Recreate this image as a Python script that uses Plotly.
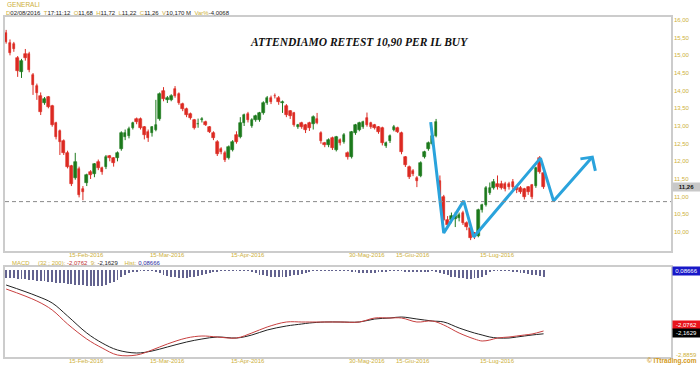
import plotly.graph_objects as go

# ---------------- data ----------------
day_index = list(range(141))
opens = [15.63, 15.35, 15.32, 14.92, 14.53, 15.04, 15.04, 14.44, 14.13, 13.85,
         13.65, 13.82, 13.57, 13.08, 12.86, 12.58, 12.24, 11.87, 11.53, 11.78,
         11.22, 11.39, 11.70, 11.64, 11.98, 11.81, 11.84, 12.15, 12.09, 12.09,
         12.35, 12.70, 12.72, 12.94, 13.20, 13.20, 12.97, 12.83, 12.80, 12.89,
         13.20, 13.99, 13.74, 13.74, 14.05, 13.90, 13.62, 13.48, 13.34, 13.17,
         13.05, 13.17, 13.12, 12.97, 12.80, 12.55, 12.35, 12.24, 12.09, 12.32,
         12.75, 12.69, 13.08, 13.34, 13.00, 13.17, 13.17, 13.37, 13.65, 13.79,
         13.85, 13.79, 13.65, 13.57, 13.42, 13.37, 12.97, 13.08, 13.03, 13.08,
         13.06, 13.20, 12.80, 12.52, 12.46, 12.66, 12.32, 12.60, 12.55, 12.24,
         12.12, 12.80, 12.89, 12.97, 13.23, 13.08, 13.03, 12.97, 12.94, 12.43,
         12.58, 12.89, 12.94, 12.80, 12.12, 11.84, 11.73, 11.53, 11.59, 12.12,
         12.35, 12.49, 12.72, 11.45, 11.00, 10.34, 10.34, 10.37, 10.40, 10.54,
         10.26, 10.11, 9.97, 9.89, 10.62, 10.76, 11.10, 11.25, 11.36, 11.36,
         11.36, 11.36, 11.42, 11.27, 11.24, 11.22, 11.27, 11.33, 11.30, 12.10,
         11.68]
highs = [15.72, 15.45, 15.38, 14.98, 14.90, 15.18, 15.10, 14.50, 14.20, 13.95,
         13.82, 13.85, 13.60, 13.12, 12.90, 12.62, 12.30, 11.90, 12.24, 11.85,
         11.30, 11.65, 11.75, 11.95, 12.05, 11.85, 12.18, 12.18, 12.12, 12.28,
         12.85, 12.90, 12.98, 13.12, 13.24, 13.24, 13.00, 12.90, 13.00, 13.74,
         13.95, 14.10, 13.85, 13.90, 14.13, 13.95, 13.66, 13.52, 13.38, 13.20,
         13.21, 13.25, 13.15, 13.00, 12.85, 12.60, 12.40, 12.30, 12.45, 12.60,
         12.85, 13.25, 13.35, 13.40, 13.22, 13.32, 13.40, 13.70, 13.85, 13.86,
         13.92, 13.85, 13.72, 13.62, 13.45, 13.40, 13.06, 13.12, 13.06, 13.12,
         13.30, 13.37, 12.85, 12.55, 12.65, 12.70, 12.72, 12.65, 12.80, 12.28,
         12.86, 13.06, 13.12, 13.15, 13.38, 13.12, 13.06, 13.00, 12.98, 12.56,
         12.76, 13.03, 12.98, 12.84, 12.15, 11.88, 11.78, 11.58, 12.00, 12.30,
         12.56, 12.75, 13.20, 11.60, 11.05, 10.45, 10.55, 10.57, 10.55, 10.60,
         10.30, 10.15, 10.00, 10.66, 10.80, 11.30, 11.40, 11.50, 11.60, 11.45,
         11.42, 11.42, 11.50, 11.30, 11.30, 11.25, 11.30, 11.36, 11.85, 12.15,
         11.72]
lows = [15.33, 15.00, 15.10, 14.39, 14.36, 14.85, 14.52, 13.88, 13.74, 13.31,
        13.60, 13.50, 12.98, 12.62, 12.18, 12.18, 11.80, 11.30, 11.48, 10.98,
        10.90, 11.30, 11.50, 11.55, 11.75, 11.62, 11.78, 12.00, 11.85, 12.00,
        12.30, 12.60, 12.65, 12.90, 13.05, 12.90, 12.62, 12.55, 12.70, 12.85,
        13.15, 13.70, 13.65, 13.70, 13.80, 13.60, 13.42, 13.25, 13.18, 12.90,
        12.95, 13.10, 13.00, 12.80, 12.60, 12.15, 12.20, 11.98, 12.05, 12.28,
        12.50, 12.65, 13.00, 13.10, 12.95, 13.12, 13.12, 13.32, 13.60, 13.62,
        13.78, 13.60, 13.37, 13.25, 13.20, 12.98, 12.92, 12.92, 12.80, 12.86,
        12.90, 13.05, 12.50, 12.40, 12.40, 12.32, 12.28, 12.45, 12.50, 12.05,
        12.08, 12.75, 12.85, 12.92, 12.98, 12.92, 12.90, 12.78, 12.45, 12.38,
        12.52, 12.85, 12.80, 12.20, 11.84, 11.50, 11.58, 11.27, 11.55, 12.08,
        12.30, 12.45, 12.68, 10.95, 10.30, 10.10, 10.25, 10.14, 10.30, 10.20,
        10.05, 9.77, 9.80, 9.85, 10.55, 10.72, 11.05, 11.20, 11.20, 11.20,
        11.15, 11.20, 11.20, 11.10, 11.08, 10.92, 11.05, 10.93, 11.25, 11.65,
        11.22]
closes = [15.38, 15.07, 15.18, 14.56, 14.84, 14.92, 14.58, 14.16, 13.93, 13.40,
          13.76, 13.54, 13.03, 12.69, 12.55, 12.24, 11.84, 11.36, 11.98, 11.05,
          11.13, 11.61, 11.61, 11.92, 11.81, 11.70, 12.12, 12.09, 11.95, 12.24,
          12.80, 12.80, 12.92, 13.08, 13.11, 12.94, 12.74, 12.66, 12.97, 13.03,
          13.90, 13.76, 13.80, 13.85, 13.85, 13.65, 13.48, 13.31, 13.23, 12.94,
          13.07, 13.20, 13.03, 12.83, 12.66, 12.21, 12.26, 12.04, 12.40, 12.55,
          12.55, 13.08, 13.31, 13.17, 13.17, 13.28, 13.37, 13.65, 13.79, 13.68,
          13.84, 13.68, 13.68, 13.31, 13.28, 13.03, 13.03, 12.97, 12.89, 12.94,
          13.25, 13.09, 12.58, 12.46, 12.60, 12.38, 12.69, 12.52, 12.75, 12.12,
          12.83, 13.03, 13.08, 13.11, 13.03, 12.97, 12.94, 12.83, 12.52, 12.52,
          12.72, 12.97, 12.83, 12.26, 11.90, 11.56, 11.64, 11.44, 11.95, 12.26,
          12.52, 12.72, 13.11, 11.02, 10.34, 10.20, 10.45, 10.45, 10.48, 10.26,
          10.14, 9.83, 9.86, 10.62, 10.76, 11.25, 11.25, 11.42, 11.28, 11.25,
          11.22, 11.28, 11.27, 11.19, 11.13, 10.99, 11.13, 10.99, 11.81, 11.70,
          11.26]

date_tick_idx = [21, 42, 63, 94, 106, 128]
date_tick_text = ["15-Feb-2016", "15-Mar-2016", "15-Apr-2016",
                  "30-Mag-2016", "15-Giu-2016", "15-Lug-2016"]
price_ticks = [10.0, 10.5, 11.0, 11.5, 12.0, 12.5, 13.0, 13.5, 14.0, 14.5, 15.0, 15.5, 16.0]

macd_idx = [0, 8, 12, 16, 21, 25, 29, 34, 38, 42, 47, 51, 55, 60, 64, 68, 73, 77, 79,
            83, 87, 92, 96, 100, 103, 107, 111, 114, 118, 122, 124, 126, 128, 131,
            133, 135, 137, 140]
macd_line = [-0.774, -1.146, -1.425, -1.859, -2.324, -2.603, -2.820, -2.820, -2.665,
             -2.479, -2.293, -2.231, -2.262, -2.293, -2.138, -1.952, -1.797, -1.797,
             -1.797, -1.797, -1.797, -1.797, -1.673, -1.673, -1.673, -1.797, -1.766,
             -1.890, -2.138, -2.324, -2.386, -2.355, -2.293, -2.262, -2.231, -2.200,
             -2.169, -2.076]
signal_line = [-0.650, -0.991, -1.208, -1.611, -2.138, -2.448, -2.665, -2.758, -2.696,
               -2.572, -2.417, -2.324, -2.262, -2.293, -2.200, -2.045, -1.921, -1.859,
               -1.828, -1.797, -1.797, -1.797, -1.704, -1.673, -1.642, -1.704, -1.766,
               -1.797, -1.983, -2.138, -2.200, -2.262, -2.293, -2.293, -2.262, -2.231,
               -2.200, -2.163]
hist_values = [
    -0.093, -0.098, -0.101, -0.105, -0.109, -0.113, -0.118, -0.122, -0.127, -0.132,
    -0.136, -0.141, -0.146, -0.150, -0.155, -0.160, -0.164, -0.169, -0.174, -0.178,
    -0.183, -0.186, -0.189, -0.191, -0.191,
    -0.186, -0.175, -0.160, -0.140, -0.116, -0.085, -0.054, -0.034, -0.019, -0.012,
    -0.009, 0.008, 0.008, 0.009,
    0.023, 0.039, 0.054, 0.070, 0.078, 0.085, 0.093, 0.093, 0.093, 0.085, 0.078,
    0.070, 0.062, 0.047, 0.034, 0.023, 0.016,
    0.009, 0.008, -0.008, -0.009, 0.008, 0.009, 0.009, 0.010,
    0.023, 0.039, 0.054, 0.062, 0.070, 0.078, 0.085, 0.085, 0.085, 0.078, 0.070,
    0.062, 0.054, 0.047, 0.031, 0.019,
    0.009, 0.008, 0.009, -0.008, -0.009, 0.008, 0.009, 0.008, -0.008, 0.009,
    0.016, 0.023, 0.031, 0.039, 0.039, 0.039, 0.031, 0.023, 0.016, 0.012,
    0.009, 0.008, 0.009, 0.008,
    -0.012, -0.016, -0.019, -0.023, -0.019, -0.016, -0.012, -0.009, 0.016,
    -0.031, -0.047, -0.062, -0.078, -0.085, -0.093, -0.101, -0.109, -0.109, -0.101,
    -0.093, -0.078, -0.054,
    -0.012, -0.009, -0.009, 0.008, 0.009, 0.009, 0.012, 0.016,
    0.031, 0.039, 0.047, 0.054, 0.062, 0.074, 0.08666]

retest_level = 10.86
last_price = 11.26
macd_last = -2.0762
signal_last = -2.1629
hist_last = 0.08666
macd_floor_label = -2.8859

# hand-drawn projection path (day index, price)
path_x = [110.6, 114.0, 119.2, 121.8, 139.2, 142.6, 152.7]
path_y = [13.11, 9.97, 10.88, 9.86, 12.09, 10.88, 12.12]
arrow_x = [149.6, 152.7, 153.5]
arrow_y = [12.07, 12.12, 11.73]

header_title = "GENERALI"
header_fields = [("D", "02/08/2016"), ("T", "17:11:12"), ("O", "11,68"), ("H", "11,72"),
                 ("L", "11,22"), ("C", "11,26"), ("V", "10,170 M"), ("Var%", "-4,0068")]
chart_title = "ATTENDIAMO RETEST 10,90 PER IL BUY"

# ---------------- styles ----------------
GOLD = "#cdb03a"
RED = "#dc2a22"
GREEN = "#1d7a1d"
FRAME = "#cccccc"
FONT = "Arial, Liberation Sans, sans-serif"


def it(v, d):
    return f"{v:.{d}f}".replace(".", ",")


# plot area in px: x 3..671, y 17..357
def py(p):
    return (357 - p) / 340.0


def px(p):
    return (p - 3) / 668.0


fig = go.Figure()

# wicks
for up_flag, col in ((True, GREEN), (False, RED)):
    wx, wy = [], []
    for i, o, h, l, c in zip(day_index, opens, highs, lows, closes):
        if (c >= o) == up_flag:
            wx += [i, i, None]
            wy += [l, h, None]
    fig.add_trace(go.Scatter(x=wx, y=wy, mode="lines", line=dict(color=col, width=1),
                             hoverinfo="skip", showlegend=False, xaxis="x", yaxis="y"))

body_base = [min(o, c) for o, c in zip(opens, closes)]
body_h = [abs(c - o) for o, c in zip(opens, closes)]
body_col = [GREEN if c >= o else RED for o, c in zip(opens, closes)]
fig.add_trace(go.Bar(x=day_index, y=body_h, base=body_base, width=0.68,
                     marker=dict(color=body_col, line=dict(color=body_col, width=0.6)),
                     showlegend=False, xaxis="x", yaxis="y"))

# projection path
fig.add_trace(go.Scatter(x=path_x, y=path_y, mode="lines",
                         line=dict(color="#2aa3dc", width=3), showlegend=False,
                         xaxis="x", yaxis="y"))
fig.add_trace(go.Scatter(x=arrow_x, y=arrow_y, mode="lines",
                         line=dict(color="#2aa3dc", width=3), showlegend=False,
                         xaxis="x", yaxis="y"))

# MACD panel: histogram hangs from the zero line near the top of the panel
fig.add_trace(go.Bar(x=day_index, y=[-abs(v) for v in hist_values], width=0.24,
                     marker=dict(color="#63638f", line=dict(width=0)),
                     showlegend=False, xaxis="x2", yaxis="y3"))
fig.add_trace(go.Scatter(x=macd_idx, y=signal_line, mode="lines",
                         line=dict(color="#222222", width=1, shape="spline"),
                         showlegend=False, xaxis="x2", yaxis="y2"))
fig.add_trace(go.Scatter(x=macd_idx, y=macd_line, mode="lines",
                         line=dict(color="#c84040", width=1, shape="spline"),
                         showlegend=False, xaxis="x2", yaxis="y2"))

xr = [-0.3, 173.2]
main_dom = [py(251), 1.0]
low_dom = [0.0, py(267)]

fig.update_layout(
    width=700, height=365,
    margin=dict(l=3, r=29, t=17, b=8),
    paper_bgcolor="white", plot_bgcolor="white",
    barmode="overlay", bargap=0,
    separators=",.",
    font=dict(family=FONT, size=6, color=GOLD),
    xaxis=dict(domain=[0, 1], anchor="y", range=xr, showticklabels=False, showgrid=False,
               zeroline=False, showline=True, mirror=True, linecolor=FRAME, linewidth=1.5,
               ticks=""),
    yaxis=dict(domain=main_dom, anchor="x", side="right", range=[9.462, 16.085],
               tickvals=price_ticks, ticktext=[it(v, 2) for v in price_ticks],
               tickfont=dict(size=6, color=GOLD), showgrid=False, zeroline=False,
               showline=True, mirror=True, linecolor=FRAME, linewidth=1.5, ticks=""),
    xaxis2=dict(domain=[0, 1], anchor="y2", range=xr, matches="x", showticklabels=False,
                showgrid=False, zeroline=False, showline=True, mirror=True,
                linecolor=FRAME, linewidth=1.5, ticks=""),
    yaxis2=dict(domain=low_dom, anchor="x2", side="right", range=[-2.882, -0.092],
                showticklabels=False, showgrid=False, zeroline=False, showline=True,
                mirror=True, linecolor=FRAME, linewidth=1.5, ticks=""),
    yaxis3=dict(domain=low_dom, overlaying="y2", anchor="x2", side="right",
                range=[-1.038, 0.036], showticklabels=False, showgrid=False,
                zeroline=False, showline=False, ticks=""),
)

fig.add_shape(type="line", xref="x domain", yref="y", x0=0, x1=1,
              y0=retest_level, y1=retest_level,
              line=dict(color="#8a8a8a", width=1, dash="4px,3px"))

ann = []
ann.append(dict(text=header_title, x=px(3), y=py(5), xref="paper", yref="paper",
                xanchor="left", yanchor="middle", showarrow=False,
                font=dict(size=6.5, color=GOLD)))
info = "&nbsp;&nbsp;".join(f'<span style="color:{GOLD}">{k}</span>'
                           f'<span style="color:#222">{v}</span>' for k, v in header_fields)
ann.append(dict(text=info, x=px(2), y=py(13), xref="paper", yref="paper",
                xanchor="left", yanchor="middle", showarrow=False, font=dict(size=6)))
ann.append(dict(text=f"<b><i>{chart_title}</i></b>", x=px(358), y=py(42),
                xref="paper", yref="paper", xanchor="center", yanchor="middle",
                showarrow=False,
                font=dict(family="Liberation Serif, Times New Roman, serif", size=11.5,
                          color="#111111")))
for ti, tt in zip(date_tick_idx, date_tick_text):
    for yy in (py(255.5), py(360.5)):
        ann.append(dict(text=tt, x=ti, y=yy, xref="x", yref="paper", xanchor="center",
                        yanchor="middle", showarrow=False, font=dict(size=6, color=GOLD)))
legend = (f'<span style="color:{GOLD}">MACD&nbsp;&nbsp;&nbsp;&nbsp;&nbsp;(32 ; 200):</span> '
          f'<span style="color:#c03030">{it(macd_last, 4)}</span>&nbsp;&nbsp;'
          f'<span style="color:{GOLD}">9:</span> '
          f'<span style="color:#222">{it(signal_last, 4)}</span>&nbsp;&nbsp;&nbsp;&nbsp;'
          f'<span style="color:{GOLD}">Hist:</span> '
          f'<span style="color:#2a2aa0">{it(hist_last, 5)}</span>')
ann.append(dict(text=legend, x=px(8), y=py(262.5), xref="paper", yref="paper",
                xanchor="left", yanchor="middle", showarrow=False, font=dict(size=6)))


def box(txt, ypos, bg, fg, yref="paper"):
    return dict(text=txt, x=1.0, y=ypos, xref="paper", yref=yref, xanchor="left",
                yanchor="middle", xshift=1, showarrow=False, width=27, height=8,
                align="center", bgcolor=bg, borderpad=0,
                font=dict(size=6, color=fg))


ann.append(box(f"<b>{it(last_price, 2)}</b>", last_price, "#c8c8c8", "#111", yref="y"))
ann.append(box(it(hist_last, 5), py(271), "#1818c8", "#ffffff"))
ann.append(box(it(macd_last, 4), py(325), "#e8141c", "#ffffff"))
ann.append(box(it(signal_last, 4), py(333), "#000000", "#ffffff"))
ann.append(dict(text=it(macd_floor_label, 4), x=1.0, y=py(355), xref="paper", yref="paper",
                xanchor="left", yanchor="middle", xshift=3, showarrow=False,
                font=dict(size=6, color=GOLD)))
ann.append(dict(text="<b>© ITtrading.com</b>", x=px(699), y=py(360.5), xref="paper",
                yref="paper", xanchor="right", yanchor="middle", showarrow=False,
                font=dict(size=6.5, color="#d49a20")))
fig.update_layout(annotations=ann)

fig.write_html("out.html")
